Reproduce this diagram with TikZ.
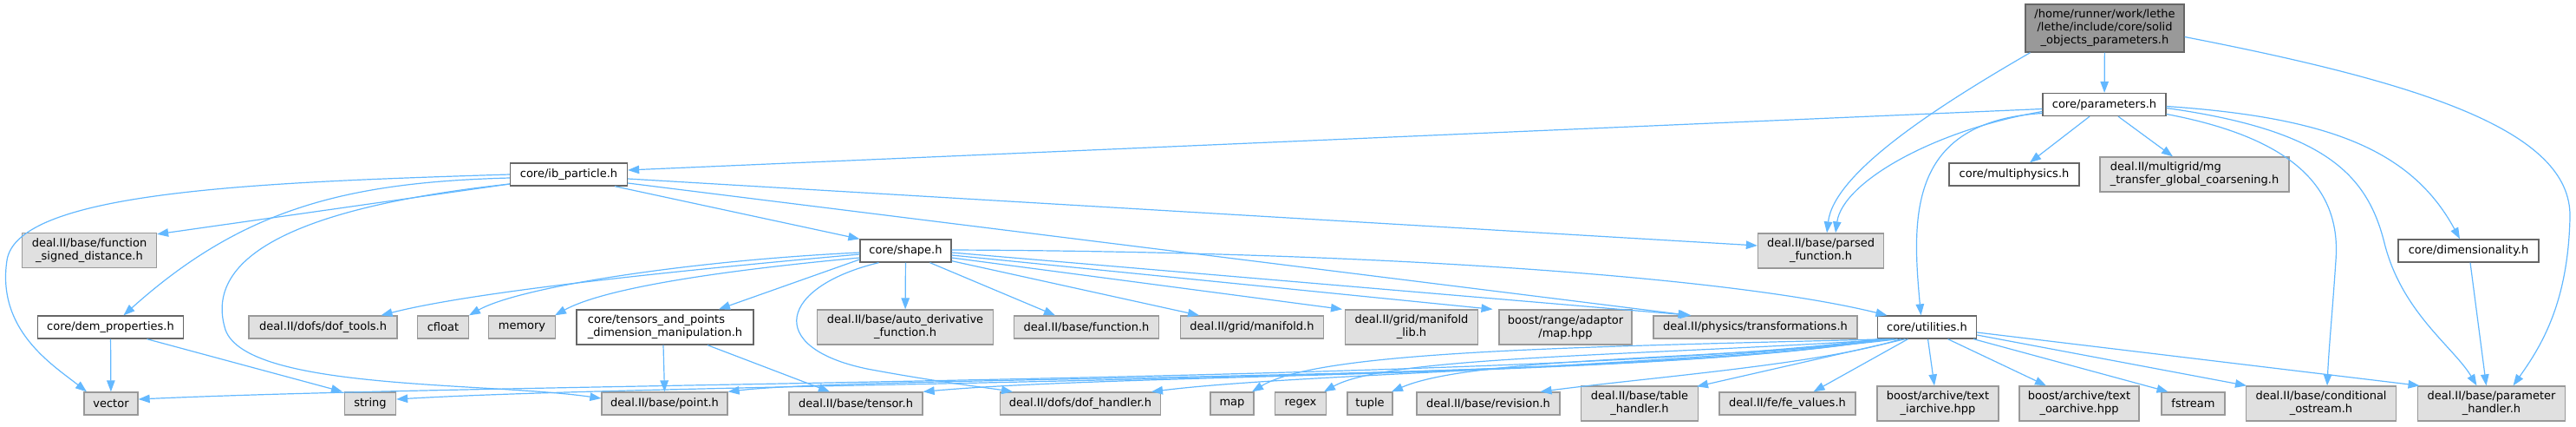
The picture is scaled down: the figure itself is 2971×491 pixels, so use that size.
\documentclass[tikz,border=0pt]{standalone}
\usepackage{fontspec}
\setmainfont{DejaVu Sans}
\usepackage{tikz}
\usetikzlibrary{arrows.meta}
\definecolor{EdgeBlue}{HTML}{63B8FF}
\definecolor{FileBorder}{HTML}{666666}
\definecolor{ExtFill}{HTML}{E0E0E0}
\definecolor{ExtBorder}{HTML}{999999}
\definecolor{RootFill}{HTML}{999999}

\begin{document}
\begin{tikzpicture}[
      x=1pt,y=-1pt,
      fileBox/.style={draw=FileBorder,fill=white,line width=1.3pt,inner sep=0pt,
                      minimum height=26pt,align=center,
                      font=\fontsize{13}{15}\selectfont},
      extBox/.style={fileBox,draw=ExtBorder,fill=ExtFill},
      rootBox/.style={fileBox,fill=RootFill},
      twoRow/.style={minimum height=40pt},
      arInc/.style={-{Triangle[length=13pt,width=9.5pt]},line width=1.2pt,EdgeBlue}
    ]
    \useasboundingbox (0,0) rectangle (2971,491);

    % Row 1 and 2: the file itself and core/parameters.h
    \node(root)[rootBox,minimum width=183pt,minimum height=55pt] at (2427.5,32.5)
      {/home/runner/work/lethe\\/lethe/include/core/solid\\\_objects\_parameters.h};
    \node(params)[fileBox,minimum width=142pt] at (2427,120.5) {core/parameters.h};

    % Row 3
    \node(ibPart)[fileBox,minimum width=135pt] at (656,201) {core/ib\_particle.h};
    \node(multiPhys)[fileBox,minimum width=150pt] at (2323,201) {core/multiphysics.h};
    \node(mgTrans)[extBox,twoRow,minimum width=218pt,align=left] at (2531,201)
      {deal.II/multigrid/mg\\\_transfer\_global\_coarsening.h};

    % Row 4
    \node(fnSigned)[extBox,twoRow,minimum width=155pt] at (103,288.5)
      {deal.II/base/function\\\_signed\_distance.h};
    \node(shapeH)[fileBox,minimum width=105pt] at (1044.5,289) {core/shape.h};
    \node(parsedFn)[extBox,twoRow,minimum width=145pt] at (2100,289)
      {deal.II/base/parsed\\\_function.h};
    \node(dimens)[fileBox,minimum width=162pt] at (2847,289) {core/dimensionality.h};

    % Row 5
    \node(demProp)[fileBox,minimum width=168pt] at (127.5,377) {core/dem\_properties.h};
    \node(dofTools)[extBox,minimum width=171pt] at (372.5,377) {deal.II/dofs/dof\_tools.h};
    \node(cfloat)[extBox,minimum width=59pt] at (511,377) {cfloat};
    \node(memory)[extBox,minimum width=77pt] at (602,377) {memory};
    \node(tensDim)[fileBox,twoRow,minimum width=204pt,align=left] at (767,377)
      {core/tensors\_and\_points\\\_dimension\_manipulation.h};
    \node(autoDeriv)[extBox,twoRow,minimum width=203pt] at (1044,377)
      {deal.II/base/auto\_derivative\\\_function.h};
    \node(dealFn)[extBox,minimum width=167pt] at (1253,377) {deal.II/base/function.h};
    \node(manifold)[extBox,minimum width=165pt] at (1444,377) {deal.II/grid/manifold.h};
    \node(manifoldLib)[extBox,twoRow,minimum width=153pt] at (1628,377)
      {deal.II/grid/manifold\\\_lib.h};
    \node(mapAdapt)[extBox,twoRow,minimum width=153pt] at (1805.5,377)
      {boost/range/adaptor\\/map.hpp};
    \node(transf)[extBox,minimum width=235pt] at (2024.5,377) {deal.II/physics/transformations.h};
    \node(utils)[fileBox,minimum width=114pt] at (2222.5,377) {core/utilities.h};

    % Row 6
    \node(vector)[extBox,minimum width=62pt] at (128,465) {vector};
    \node(string)[extBox,minimum width=59pt] at (427,465) {string};
    \node(point)[extBox,minimum width=145pt] at (766.5,465) {deal.II/base/point.h};
    \node(tensor)[extBox,minimum width=154pt] at (987,465) {deal.II/base/tensor.h};
    \node(dofHandler)[extBox,minimum width=185pt] at (1246,465) {deal.II/dofs/dof\_handler.h};
    \node(map)[extBox,minimum width=50pt] at (1421,465) {map};
    \node(regex)[extBox,minimum width=59pt] at (1500,465) {regex};
    \node(tuple)[extBox,minimum width=52pt] at (1580,465) {tuple};
    \node(revision)[extBox,minimum width=165pt] at (1716.5,465) {deal.II/base/revision.h};
    \node(tableHandler)[extBox,twoRow,minimum width=135pt] at (1891,465)
      {deal.II/base/table\\\_handler.h};
    \node(feValues)[extBox,minimum width=157pt] at (2061.5,465) {deal.II/fe/fe\_values.h};
    \node(iArch)[extBox,twoRow,minimum width=140pt] at (2235,465)
      {boost/archive/text\\\_iarchive.hpp};
    \node(oArch)[extBox,twoRow,minimum width=138pt] at (2398,465)
      {boost/archive/text\\\_oarchive.hpp};
    \node(fstream)[extBox,minimum width=73pt] at (2529.5,465) {fstream};
    \node(condOstream)[extBox,twoRow,minimum width=173pt] at (2677,465)
      {deal.II/base/conditional\\\_ostream.h};
    \node(paramHandler)[extBox,twoRow,minimum width=170pt] at (2873.5,465)
      {deal.II/base/parameter\\\_handler.h};

    % Includes of the file itself
    \draw[arInc] (root) -- (params);
    \draw[arInc] ([xshift=-86pt]root.south) .. controls (2230,125) and (2115,200) .. ([xshift=7pt]parsedFn.north);
    \draw[arInc] ([yshift=-10pt]root.east) .. controls (2790,95) and (2966,150) .. (2964,250)
      .. controls (2962,350) and (2930,400) .. ([xshift=25pt]paramHandler.north);

    % Includes of core/parameters.h
    \draw[arInc] ([yshift=-5pt]params.west) -- ([yshift=5pt]ibPart.east);
    \draw[arInc] ([xshift=-17pt]params.south) -- ([xshift=18pt]multiPhys.north);
    \draw[arInc] ([xshift=16pt]params.south) -- ([xshift=-25pt]mgTrans.north);
    \draw[arInc] ([yshift=-8pt]params.west) .. controls (2230,150) and (2125,210) .. ([xshift=17pt]parsedFn.north);
    \draw[arInc] ([yshift=-10pt]params.west) .. controls (2200,140) and (2205,250) .. ([xshift=-7pt]utils.north);
    \draw[arInc] ([yshift=-11pt]params.east) .. controls (2650,160) and (2700,220) .. (2694,300)
      .. controls (2690,360) and (2686,400) .. ([xshift=7pt]condOstream.north);
    \draw[arInc] ([yshift=-4pt]params.east) .. controls (2680,150) and (2730,200) .. (2750,280)
      .. controls (2770,360) and (2830,400) .. ([xshift=-17pt]paramHandler.north);
    \draw[arInc] ([yshift=-2pt]params.east) .. controls (2680,135) and (2780,170) .. ([xshift=-10pt]dimens.north);
    \draw[arInc] ([xshift=2pt]dimens.south) -- ([xshift=-6pt]paramHandler.north);

    % Includes of core/ib_particle.h
    \draw[arInc] (ibPart.west) .. controls (300,210) and (20,220) .. (8,300)
      .. controls (-4,380) and (60,420) .. ([xshift=-28pt]vector.north);
    \draw[arInc] ([yshift=-11pt]ibPart.west) -- ([yshift=-2pt]fnSigned.north east);
    \draw[arInc] ([yshift=-4pt]ibPart.west) .. controls (400,210) and (280,240) .. ([xshift=15pt]demProp.north);
    \draw[arInc] ([yshift=-11pt]ibPart.west) .. controls (330,240) and (235,300) .. (260,380)
      .. controls (285,450) and (560,440) .. ([yshift=6pt]point.west);
    \draw[arInc] ([xshift=53pt]ibPart.south) -- (shapeH.north west);
    \draw[arInc] ([yshift=-5pt]ibPart.east) -- ([yshift=6pt]parsedFn.west);
    \draw[arInc] ([yshift=-10pt]ibPart.east) -- ([xshift=-76pt]transf.north);

    % Includes of core/shape.h
    \draw[arInc] ([yshift=-4pt]shapeH.west) .. controls (800,310) and (550,335) .. ([xshift=67pt]dofTools.north);
    \draw[arInc] ([yshift=-2pt]shapeH.west) .. controls (800,300) and (600,330) .. ([xshift=30pt]cfloat.north);
    \draw[arInc] ([yshift=-8pt]shapeH.west) .. controls (850,310) and (700,330) .. ([xshift=38pt]memory.north);
    \draw[arInc] ([yshift=-10pt]shapeH.west) -- ([xshift=62pt]tensDim.north);
    \draw[arInc] (shapeH) -- (autoDeriv);
    \draw[arInc] ([xshift=28pt]shapeH.south) -- ([xshift=-36pt]dealFn.north);
    \draw[arInc] ([yshift=2pt]shapeH.south east) -- ([xshift=-61pt]manifold.north);
    \draw[arInc] ([yshift=-8pt]shapeH.east) -- ([xshift=-80pt]manifoldLib.north);
    \draw[arInc] ([yshift=-5pt]shapeH.east) -- ([xshift=-84pt]mapAdapt.north);
    \draw[arInc] ([yshift=-2pt]shapeH.east) -- ([xshift=-74pt]transf.north);
    \draw[arInc] ([yshift=1pt]shapeH.east) .. controls (1600,290) and (2000,320) .. ([xshift=-46pt]utils.north);
    \draw[arInc] ([xshift=-31pt]shapeH.south) .. controls (900,330) and (880,400) .. (1000,425)
      .. controls (1080,440) and (1140,447) .. ([xshift=-78pt]dofHandler.north);

    % Includes of core/dem_properties.h and core/tensors_and_points...
    \draw[arInc] (demProp) -- (vector);
    \draw[arInc] ([xshift=42pt]demProp.south) -- ([xshift=-32pt]string.north);
    \draw[arInc] ([xshift=-2pt]tensDim.south) -- (point.north);
    \draw[arInc] ([xshift=49pt]tensDim.south) -- ([xshift=-30pt]tensor.north);

    % Includes of core/utilities.h
    \draw[arInc] ([xshift=1pt]utils.south) -- ([xshift=-4pt]iArch.north);
    \draw[arInc] ([xshift=24pt]utils.south) -- ([xshift=-38pt]oArch.north);
    \draw[arInc] ([xshift=-4pt]utils.south east) -- ([xshift=-29pt]fstream.north);
    \draw[arInc] ([yshift=-9pt]utils.east) -- ([xshift=-86pt]condOstream.north);
    \draw[arInc] ([yshift=-6pt]utils.east) -- ([xshift=-83pt]paramHandler.north);
    \draw[arInc] ([xshift=-22pt]utils.south) -- ([xshift=30pt]feValues.north);
    \draw[arInc] ([xshift=-25pt]utils.south) -- ([xshift=66pt,yshift=-1pt]tableHandler.north);
    \draw[arInc] ([xshift=-30pt]utils.south) .. controls (2100,420) and (1900,435) .. ([xshift=60pt]revision.north);
    \draw[arInc] ([xshift=-34pt]utils.south) .. controls (2000,415) and (1700,410) .. ([xshift=25pt]tuple.north);
    \draw[arInc] ([xshift=-38pt]utils.south) .. controls (1900,410) and (1600,410) .. ([xshift=27pt]regex.north);
    \draw[arInc] ([xshift=-41pt]utils.south) .. controls (1800,400) and (1520,405) .. ([xshift=23pt]map.north);
    \draw[arInc] ([xshift=-44pt]utils.south) .. controls (1900,425) and (1500,430) .. ([xshift=82pt]dofHandler.north);
    \draw[arInc] ([xshift=-47pt]utils.south) .. controls (1900,435) and (1300,430) .. (tensor.north east);
    \draw[arInc] ([xshift=-50pt]utils.south) .. controls (1900,440) and (1000,432) .. (point.north east);
    \draw[arInc] ([xshift=-53pt]utils.south) .. controls (1900,440) and (800,440) .. ([yshift=5pt]string.east);
    \draw[arInc] ([xshift=-56pt]utils.south) .. controls (1800,440) and (600,440) .. ([yshift=5pt]vector.east);
  \end{tikzpicture}
\end{document}
